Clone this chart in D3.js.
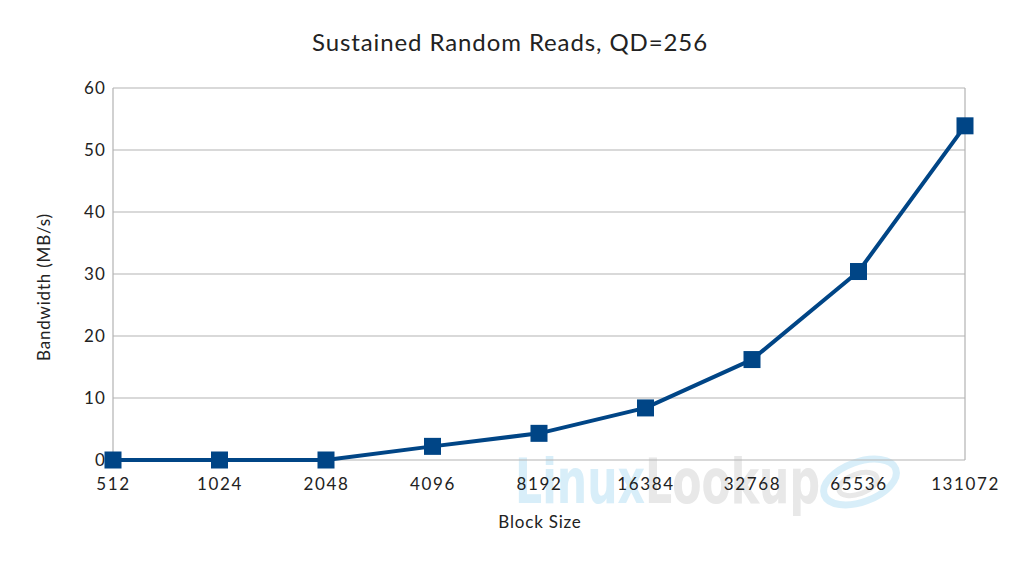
<!DOCTYPE html>
<html><head><meta charset="utf-8">
<script src="https://cdn.jsdelivr.net/npm/d3@7"></script>
<style>body{margin:0;background:#fff;}svg{display:block;font-family:Lato,"Open Sans",sans-serif;}</style>
</head><body>
<svg id="c" width="1020" height="566"></svg>
<script>
const categories = ["512","1024","2048","4096","8192","16384","32768","65536","131072"];
const bandwidth = [0, 0, 0, 2.2, 4.3, 8.4, 16.2, 30.4, 53.9];
const yTicks = [0,10,20,30,40,50,60];
const title = "Sustained Random Reads, QD=256";
const xTitle = "Block Size";
const yTitle = "Bandwidth (MB/s)";

const svg = d3.select("#c");
const m = {l:113, r:965, t:88, b:460};
const x = d3.scalePoint().domain(categories).range([m.l, m.r]);
const y = d3.scaleLinear().domain([0,60]).range([m.b, m.t]);

// watermark
const wm = svg.append("g").attr("opacity",0.85);
wm.append("text").attr("x",515).attr("y",503).attr("font-size",62).attr("font-weight","bold")
  .attr("font-family","'DejaVu Sans Condensed','Liberation Sans Narrow',sans-serif")
  .attr("textLength",305).attr("lengthAdjust","spacingAndGlyphs")
  .selectAll("tspan").data([["Linux","#d2ecf8"],["Lookup","#e4e4e4"]]).join("tspan")
  .attr("fill",d=>d[1]).text(d=>d[0]);
wm.append("ellipse").attr("cx",860).attr("cy",482).attr("rx",38).attr("ry",20)
  .attr("transform","rotate(-20,860,482)").attr("fill","none").attr("stroke","#d2ecf8").attr("stroke-width",7);
wm.append("ellipse").attr("cx",858).attr("cy",484).attr("rx",20).attr("ry",10)
  .attr("transform","rotate(-20,858,484)").attr("fill","none").attr("stroke","#e4e4e4").attr("stroke-width",5);

// grid
svg.append("g").selectAll("line").data(yTicks).join("line")
  .attr("x1",m.l).attr("x2",m.r).attr("y1",d=>y(d)).attr("y2",d=>y(d))
  .attr("stroke","#b3b3b3").attr("stroke-width",1.2);
svg.append("line").attr("x1",m.l).attr("x2",m.l).attr("y1",m.t).attr("y2",m.b).attr("stroke","#b3b3b3").attr("stroke-width",1.2);
svg.append("line").attr("x1",m.r).attr("x2",m.r).attr("y1",m.t).attr("y2",m.b).attr("stroke","#b3b3b3").attr("stroke-width",1.2);

// axes via d3
const ya = svg.append("g").attr("transform",`translate(${m.l},0)`)
  .call(d3.axisLeft(y).tickValues(yTicks).tickSize(0).tickPadding(7));
ya.select(".domain").remove();
ya.selectAll("text").attr("font-size",17).attr("letter-spacing",1.2).attr("fill","#222").attr("font-family","Lato,sans-serif");
const xa = svg.append("g").attr("transform",`translate(0,${m.b})`)
  .call(d3.axisBottom(x).tickSize(0).tickPadding(18));
xa.select(".domain").remove();
xa.selectAll("text").attr("font-size",17).attr("letter-spacing",1.6).attr("fill","#222").attr("font-family","Lato,sans-serif");

// line
const pts = categories.map((c,i)=>[c,bandwidth[i]]);
svg.append("path").datum(pts)
  .attr("d", d3.line().x(d=>x(d[0])).y(d=>y(d[1])))
  .attr("fill","none").attr("stroke","#004586").attr("stroke-width",4).attr("stroke-linejoin","round");
svg.append("g").selectAll("rect").data(pts).join("rect")
  .attr("x",d=>x(d[0])-8.5).attr("y",d=>y(d[1])-8.5).attr("width",17).attr("height",17)
  .attr("fill","#004586");

// titles
svg.append("text").attr("x",510).attr("y",51).attr("text-anchor","middle")
  .attr("font-size",24).attr("letter-spacing",0.9).attr("fill","#222").text(title);
svg.append("text").attr("x",540).attr("y",528).attr("text-anchor","middle")
  .attr("font-size",17).attr("letter-spacing",0.8).attr("fill","#222").text(xTitle);
svg.append("text").attr("transform","translate(50,287) rotate(-90)").attr("text-anchor","middle")
  .attr("font-size",17).attr("letter-spacing",0.8).attr("fill","#222").text(yTitle);
</script>
</body></html>
